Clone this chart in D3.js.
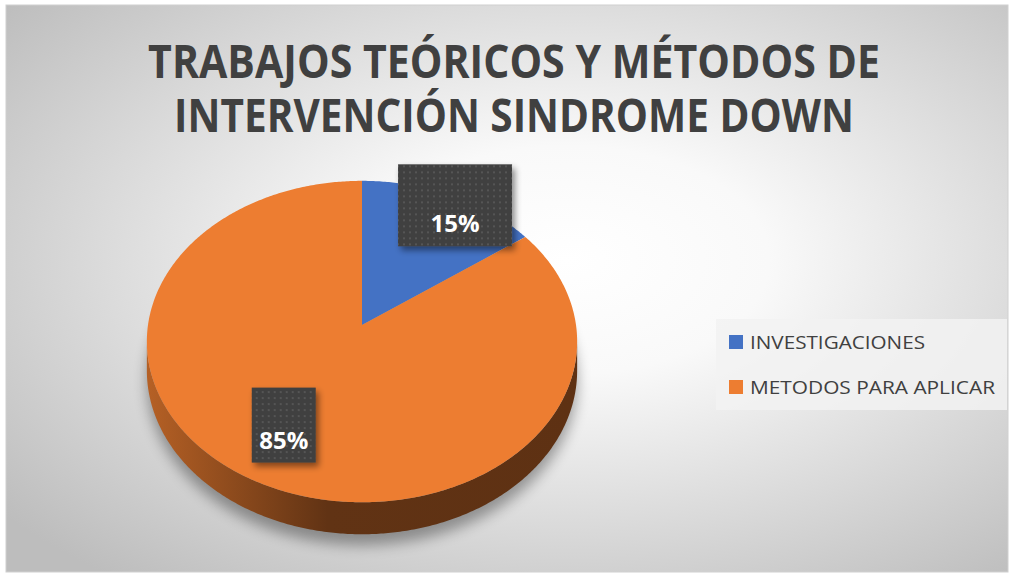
<!DOCTYPE html>
<html>
<head>
<meta charset="utf-8">
<script src="https://cdn.jsdelivr.net/npm/d3@7"></script>
<style>
  html, body { margin: 0; padding: 0; background: #fff; }
  svg { display: block; }
</style>
</head>
<body>
<div id="chart"></div>
<script>
var titleLines = ['TRABAJOS TEÓRICOS Y MÉTODOS DE', 'INTERVENCIÓN SINDROME DOWN'],
    categories = ['INVESTIGACIONES', 'METODOS PARA APLICAR'],
    values = [15, 85],
    colors = ['#4472c4', '#ed7d31'];

var W = 1011, H = 577,
    cx = 362, cy = 325,      // pie vertex on the top face
    R = 214, Ry = 159,       // radii of the tilted disc
    k = 0.103,               // perspective strength (back is farther)
    depth = 28.7;            // thickness of the disc

var svg = d3.select('#chart').append('svg')
    .attr('width', W)
    .attr('height', H),
    defs = svg.append('defs');

// background gradient
var bg = defs.append('radialGradient')
    .attr('id', 'bg')
    .attr('cx', 0.56).attr('cy', 0.45).attr('r', 0.72);
bg.append('stop').attr('offset', 0).attr('stop-color', '#ffffff');
bg.append('stop').attr('offset', 0.28).attr('stop-color', '#f9f9f9');
bg.append('stop').attr('offset', 1).attr('stop-color', '#bdbdbd');

// dotted fill of the data labels
var pat = defs.append('pattern')
    .attr('id', 'dots')
    .attr('width', 6).attr('height', 6)
    .attr('patternUnits', 'userSpaceOnUse');
pat.append('rect').attr('width', 6).attr('height', 6).attr('fill', '#404040');
pat.append('rect').attr('x', 2).attr('y', 2).attr('width', 2).attr('height', 2).attr('fill', '#555555');

var sh = defs.append('filter').attr('id', 'boxShadow')
    .attr('x', -0.2).attr('y', -0.2).attr('width', 1.5).attr('height', 1.5);
sh.append('feDropShadow')
    .attr('dx', 3).attr('dy', 4).attr('stdDeviation', 3)
    .attr('flood-color', '#000').attr('flood-opacity', 0.45);

var blur = defs.append('filter').attr('id', 'pieShadow')
    .attr('x', -0.2).attr('y', -0.2).attr('width', 1.4).attr('height', 1.4);
blur.append('feGaussianBlur').attr('stdDeviation', 7);

svg.append('rect')
    .attr('x', 6).attr('y', 5)
    .attr('width', 1002).attr('height', 567)
    .attr('fill', 'url(#bg)')
    .attr('stroke', '#d0d0d0');

// title: Calibri-like narrow look, squeezed horizontally to the reference widths
var titleWidths = [732, 680];
svg.append('g').selectAll('text')
    .data(titleLines)
    .enter()
    .append('text')
    .attr('text-anchor', 'middle')
    .style('font-family', '"Open Sans", sans-serif')
    .style('font-weight', 700)
    .style('font-size', '47px')
    .style('fill', '#404040')
    .text(function(d) { return d; })
    .each(function(d, i) {
        var sx = titleWidths[i]/this.getComputedTextLength();
        d3.select(this)
            .attr('transform', 'translate(514,' + (78 + i*54) + ') scale(' + sx + ',1)');
    });

// projection of a point on the disc: angle clockwise from the back, radius fraction, drop
function proj(theta, f, h) {
    var d = 1/(1 + k*f*Math.cos(theta));
    return [cx + R*f*Math.sin(theta)*d, cy - Ry*f*Math.cos(theta)*d + (h || 0)*d];
}

function arcPoints(a0, a1, h) {
    var n = Math.max(2, Math.ceil((a1 - a0)/0.01)), pts = [];
    for (var i = 0; i <= n; i++) {
        pts.push(proj(a0 + (a1 - a0)*i/n, 1, h));
    }
    return pts;
}

var pie = d3.pie().sort(null).value(function(d) { return d; }),
    arcs = pie(values),
    line = d3.line(),
    vis0 = Math.acos(-k), vis1 = 2*Math.PI - vis0;

var pieG = svg.append('g');

// soft shadow under the disc
pieG.append('path')
    .attr('d', line(arcPoints(0, 2*Math.PI, depth + 8)) + 'Z')
    .attr('fill', '#000')
    .attr('opacity', 0.35)
    .attr('transform', 'translate(0,2)')
    .attr('filter', 'url(#pieShadow)');

// side walls
arcs.forEach(function(a, i) {
    var s = Math.max(a.startAngle, vis0), e = Math.min(a.endAngle, vis1);
    if (s >= e) return;
    var c = d3.color(colors[i]),
        g = defs.append('linearGradient')
            .attr('id', 'side' + i)
            .attr('gradientUnits', 'userSpaceOnUse')
            .attr('x1', cx - R).attr('x2', cx + R)
            .attr('y1', 0).attr('y2', 0);
    g.append('stop').attr('offset', 0).attr('stop-color', c.darker(0.75));
    g.append('stop').attr('offset', 0.42).attr('stop-color', c.darker(2.5));
    g.append('stop').attr('offset', 1).attr('stop-color', c.darker(2.6));
    var top = arcPoints(s, e, 0),
        bottom = arcPoints(s, e, depth).reverse();
    pieG.append('path')
        .attr('d', line(top.concat(bottom)) + 'Z')
        .attr('fill', 'url(#side' + i + ')');
});

// top face
pieG.selectAll('.slice')
    .data(arcs)
    .enter()
    .append('path')
    .attr('class', 'slice')
    .attr('d', function(d) {
        return line([[cx, cy]].concat(arcPoints(d.startAngle, d.endAngle, 0))) + 'Z';
    })
    .attr('fill', function(d, i) { return colors[i]; });

// data labels
var labelPos = [{f: 1.05, dy: 16, w: 114, h: 82}, {f: 0.75, dy: -14, w: 64, h: 75}],
    total = d3.sum(values);

var lab = svg.append('g').selectAll('.label')
    .data(arcs)
    .enter()
    .append('g')
    .attr('class', 'label')
    .attr('transform', function(d, i) {
        var p = proj((d.startAngle + d.endAngle)/2, labelPos[i].f);
        return 'translate(' + p[0] + ',' + (p[1] + labelPos[i].dy) + ')';
    });

lab.append('rect')
    .attr('x', function(d, i) { return -labelPos[i].w/2; })
    .attr('y', function(d, i) { return -labelPos[i].h/2; })
    .attr('width', function(d, i) { return labelPos[i].w; })
    .attr('height', function(d, i) { return labelPos[i].h; })
    .attr('fill', 'url(#dots)')
    .attr('filter', 'url(#boxShadow)');

lab.append('text')
    .attr('y', function(d, i) { return labelPos[i].h/2 - 14; })
    .attr('text-anchor', 'middle')
    .style('font-family', '"Open Sans", sans-serif')
    .style('font-weight', 700)
    .style('font-size', '24px')
    .style('fill', '#ffffff')
    .text(function(d) { return Math.round(d.value/total*100) + '%'; });

// legend
var legend = svg.append('g').attr('transform', 'translate(716,319)');
legend.append('rect')
    .attr('width', 291).attr('height', 91)
    .attr('fill', '#f2f2f2')
    .attr('opacity', 0.85);

var item = legend.selectAll('.item')
    .data(categories)
    .enter()
    .append('g')
    .attr('class', 'item')
    .attr('transform', function(d, i) { return 'translate(13,' + (16 + i*45) + ')'; });

item.append('rect')
    .attr('width', 14).attr('height', 14)
    .attr('fill', function(d, i) { return colors[i]; });

item.append('text')
    .attr('x', 21).attr('y', 14)
    .attr('textLength', function(d, i) { return i ? 245 : 175; })
    .attr('lengthAdjust', 'spacingAndGlyphs')
    .style('font-family', '"Open Sans", sans-serif')
    .style('font-size', '19px')
    .style('fill', '#404040')
    .text(function(d) { return d; });
</script>
</body>
</html>
